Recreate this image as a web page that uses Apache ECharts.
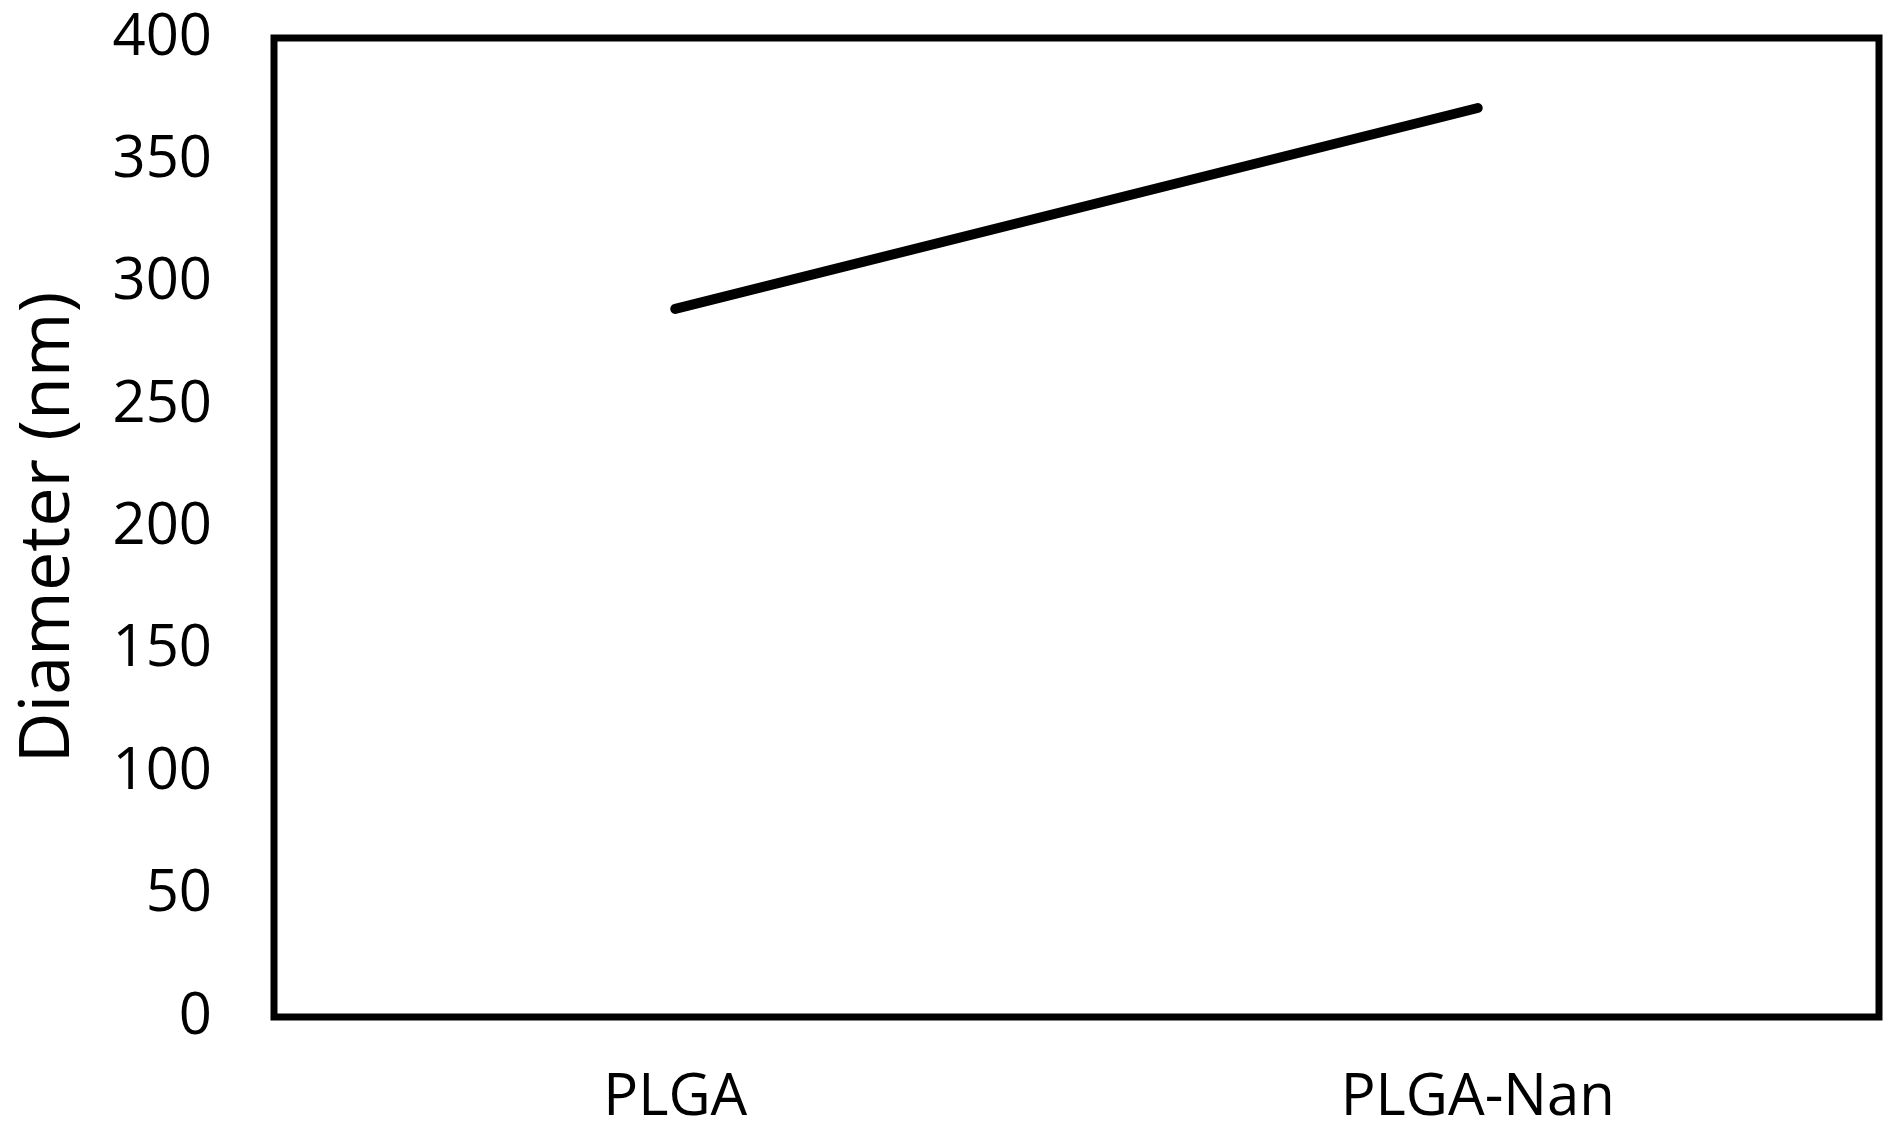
<!DOCTYPE html>
<html lang="en">
<head>
    <meta charset="utf-8" />
    <title>Diameter</title>
    <script src="https://cdn.jsdelivr.net/npm/echarts@6/dist/echarts.min.js"></script>
</head>
<body style="margin:0;background:#fff;">
    <div id="main" style="width:1892px;height:1134px;"></div>
    <script type="text/javascript">
        var categories = ['PLGA', 'PLGA-Nan'];
        var diameter = [289.3, 371.4];
        var yTicks = { min: 0, max: 400, interval: 50 };

        var font = '"Open Sans", "DejaVu Sans", sans-serif';
        var myChart = echarts.init(document.getElementById('main'));

        var option = {
            backgroundColor: '#fff',
            grid: {
                left: 274, top: 38, right: 13, bottom: 117,
                show: true, borderColor: '#000', borderWidth: 7,
                containLabel: false,
                outerBoundsMode: 'none'
            },
            xAxis: {
                type: 'category',
                data: categories,
                boundaryGap: true,
                axisLine: { show: false },
                axisTick: { show: false },
                axisLabel: { color: '#000', fontFamily: font, fontSize: 58, margin: 52 }
            },
            yAxis: {
                type: 'value',
                min: yTicks.min,
                max: yTicks.max,
                interval: yTicks.interval,
                name: 'Diameter (nm)',
                nameLocation: 'middle',
                nameGap: 190,
                nameTextStyle: { color: '#000', fontFamily: font, fontSize: 70 },
                axisLine: { show: false },
                axisTick: { show: false },
                splitLine: { show: false },
                axisLabel: { color: '#000', fontFamily: font, fontSize: 58, margin: 62 }
            },
            series: [{
                type: 'line',
                data: diameter,
                symbol: 'none',
                lineStyle: { color: '#000', width: 10, cap: 'round' },
                animation: false
            }]
        };

        myChart.setOption(option);
    </script>
</body>
</html>
